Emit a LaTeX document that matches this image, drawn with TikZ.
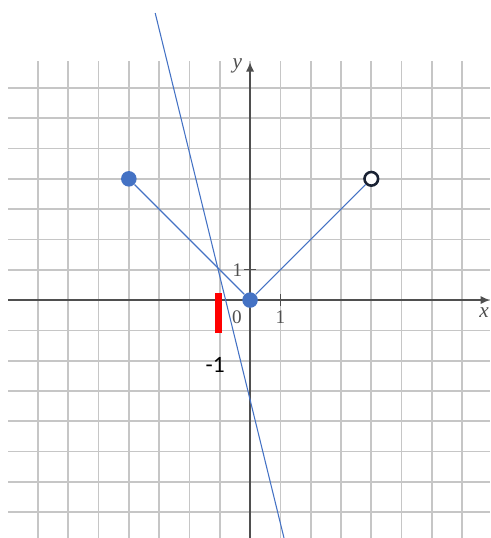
\documentclass[tikz,border=0pt]{standalone}
\usepackage{fontspec}
\setmainfont{Liberation Serif}
\newfontfamily\markfont{Carlito}
\usetikzlibrary{arrows.meta, positioning, calc}
\definecolor{plotblue}{HTML}{4472C4}
\definecolor{gridgray}{HTML}{C6C6C6}
\definecolor{axisgray}{HTML}{4F4F4F}
\definecolor{rimnavy}{HTML}{1A2233}

\begin{document}
\begin{tikzpicture}[x=0.5cm, y=0.5cm,
    gridline/.style={draw=gridgray, line width=0.8pt},
    axisline/.style={draw=axisgray, line width=1.2pt, -{Latex[length=4.5pt, width=4pt]}},
    graphline/.style={draw=plotblue, line width=0.5pt},
    dot/.style={circle, fill=plotblue, minimum size=7.3pt, inner sep=0pt},
    hollow/.style={circle, draw=rimnavy, fill=white, line width=1.2pt, minimum size=6.4pt, inner sep=0pt},
    ticklabel/.style={font=\fontsize{9}{10}\selectfont, text=axisgray, inner sep=1pt}]
    \useasboundingbox (-8.25,-7.85) rectangle (7.92,9.9);
    % grid
    \foreach \i in {-7,...,7} {
        \draw[gridline] (\i,-7.85) -- (\i,7.9);
        \draw[gridline] (-7.98,\i) -- (7.92,\i);
    }
    % axes
    \coordinate (xstart) at (-7.98,0);
    \coordinate (xend) at (7.92,0);
    \coordinate (ystart) at (0,-7.85);
    \coordinate (yend) at (0,7.85);
    \draw[axisline] (xstart) -- (xend);
    \draw[axisline] (ystart) -- (yend);
    \node[ticklabel, font=\fontsize{10}{11}\selectfont\itshape] (xlab) at (7.72,-0.42) {x};
    \node[ticklabel, font=\fontsize{10}{11}\selectfont\itshape] (ylab) at (-0.42,7.72) {y};
    % ticks
    \draw[axisgray, line width=0.7pt] (1,-0.2) -- (1,0.2);
    \draw[axisgray, line width=0.7pt] (-0.2,1) -- (0.2,1);
    \node[ticklabel] (xone) at (1,-0.57) {1};
    \node[ticklabel] (yone) at (-0.42,1) {1};
    \node[ticklabel] (zero) at (-0.43,-0.57) {0};
    % graph
    \node[dot] (left) at (-4,4) {};
    \node[dot] (origin) at (0,0) {};
    \node[hollow] (right) at (4,4) {};
    \draw[graphline] (left) -- (origin);
    \draw[graphline] (origin) -- (right);
    \coordinate (ltop) at (-3.13,9.47);
    \coordinate (lbot) at (1.12,-7.85);
    \draw[graphline] (ltop) -- (lbot);
    % mark at -1
    \coordinate (mtop) at (-1.04,0.23);
    \coordinate (mbot) at (-1.04,-1.09);
    \draw[red, line width=3.3pt] (mtop) -- (mbot);
    \node[font=\markfont\fontsize{11}{13}\selectfont, inner sep=0pt] (mlab) at (-1.15,-2.14) {-1};
\end{tikzpicture}
\end{document}
